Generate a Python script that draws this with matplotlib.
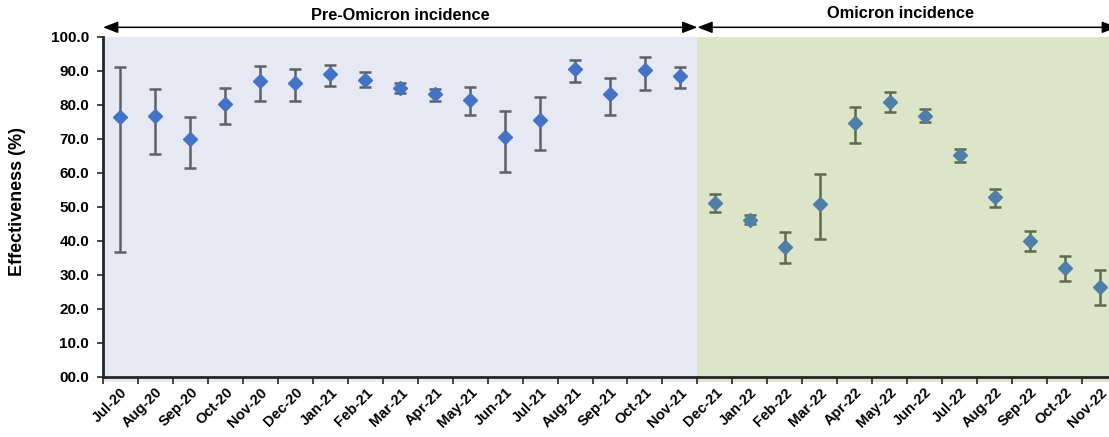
import numpy as np
import matplotlib
matplotlib.use("Agg")
from matplotlib import pyplot as plt

plt.rcParams['font.family'] = ['Liberation Sans', 'DejaVu Sans']
plt.rcParams['font.weight'] = 'bold'

months = ['Jul-20', 'Aug-20', 'Sep-20', 'Oct-20', 'Nov-20', 'Dec-20', 'Jan-21',
          'Feb-21', 'Mar-21', 'Apr-21', 'May-21', 'Jun-21', 'Jul-21', 'Aug-21',
          'Sep-21', 'Oct-21', 'Nov-21', 'Dec-21', 'Jan-22', 'Feb-22', 'Mar-22',
          'Apr-22', 'May-22', 'Jun-22', 'Jul-22', 'Aug-22', 'Sep-22', 'Oct-22',
          'Nov-22']

# effectiveness estimate with lower / upper bounds
eff = [76.4, 76.9, 70.0, 80.3, 87.2, 86.5, 89.0, 87.5, 85.1, 83.1, 81.6, 70.7,
       75.7, 90.6, 83.3, 90.3, 88.6,
       51.2, 46.3, 38.1, 51.0, 74.6, 81.0, 76.8, 65.3, 52.8, 40.0, 32.0, 26.6]
lower = [36.9, 65.5, 61.6, 74.4, 81.2, 81.2, 85.6, 85.2, 83.5, 81.3, 77.1, 60.4,
         66.8, 86.9, 77.0, 84.5, 85.1,
         48.5, 45.0, 33.5, 40.7, 68.9, 77.8, 74.9, 63.3, 50.1, 37.2, 28.3, 21.3]
upper = [91.3, 84.7, 76.5, 84.9, 91.6, 90.6, 91.8, 89.6, 86.6, 84.8, 85.3, 78.3,
         82.3, 93.2, 88.0, 94.0, 91.3,
         53.9, 47.7, 42.6, 59.8, 79.5, 83.8, 78.7, 67.1, 55.3, 43.0, 35.6, 31.5]

n_pre = 17  # Jul-20 .. Nov-21 are pre-Omicron

eff = np.array(eff)
lower = np.array(lower)
upper = np.array(upper)
x = np.arange(len(months))

fig = plt.figure(figsize=(11.09, 4.37), dpi=100)
# plot area runs a little past the right edge of the image
ax = fig.add_axes([103 / 1109, 1 - 377 / 437, 1014 / 1109, 340 / 437])

ax.axvspan(-0.5, n_pre - 0.5, ymin=-0.016, ymax=1, color='#e6e8f4', zorder=0, clip_on=False, lw=0)
ax.axvspan(n_pre - 0.5, len(months) - 0.5, ymin=-0.016, ymax=1, color='#dce5c8', zorder=0, clip_on=False, lw=0)

pre = slice(0, n_pre)
post = slice(n_pre, None)
ax.errorbar(x[pre], eff[pre], yerr=[eff[pre] - lower[pre], upper[pre] - eff[pre]],
            fmt='D', color='#4472c4', ms=7, ecolor='#5f5f66', elinewidth=1.8,
            capsize=4, capthick=1.8, zorder=3)
ax.errorbar(x[post], eff[post], yerr=[eff[post] - lower[post], upper[post] - eff[post]],
            fmt='D', color='#4f7ea6', ms=7, ecolor='#5e6a4e', elinewidth=1.8,
            capsize=4, capthick=1.8, zorder=3)

ax.set_xlim(-0.5, len(months) - 0.5)
ax.set_ylim(0, 100)
ax.set_yticks(np.arange(0, 101, 10))
ax.set_yticklabels(['{:04.1f}'.format(v) for v in np.arange(0, 101, 10)])
ax.set_xticks(x)
ax.set_xticklabels(months, rotation=45, ha='right', rotation_mode='anchor')
ax.set_xticks(np.arange(-0.5, len(months), 1), minor=True)
ax.tick_params(axis='x', which='major', length=0, pad=6, labelsize=10.5)
ax.tick_params(axis='x', which='minor', length=5, width=1.2, color='#262626')
ax.tick_params(axis='y', length=4, width=1.2, color='#262626', labelsize=11, pad=6)
for lab in ax.get_xticklabels() + ax.get_yticklabels():
    lab.set_fontweight('bold')

for s in ['top', 'right']:
    ax.spines[s].set_visible(False)
for s in ['left', 'bottom']:
    ax.spines[s].set_linewidth(2)
    ax.spines[s].set_color('#262626')
ax.spines['left'].set_zorder(4)
ax.spines['bottom'].set_zorder(4)

fig.text(17.5 / 1109, 1 - 202 / 437, 'Effectiveness (%)', rotation=90, ha='center',
         va='center', fontsize=13, fontweight='bold')

# period arrows above the plot
ya = 1.0285
arrow = dict(arrowstyle='<|-|>,head_length=0.9,head_width=0.35', color='black', lw=1.1,
             shrinkA=0, shrinkB=0)
ax.annotate('', xy=(-0.5, ya), xytext=(n_pre - 0.5, ya),
            xycoords=('data', 'axes fraction'), textcoords=('data', 'axes fraction'),
            arrowprops=arrow, annotation_clip=False)
ax.annotate('', xy=(n_pre - 0.5, ya), xytext=(len(months) - 0.5, ya),
            xycoords=('data', 'axes fraction'), textcoords=('data', 'axes fraction'),
            arrowprops=arrow, annotation_clip=False)
ax.text((n_pre - 1) / 2, 1.063, 'Pre-Omicron incidence', transform=ax.get_xaxis_transform(),
        ha='center', va='center', fontsize=11.8, fontweight='bold')
ax.text(22.3, 1.069, 'Omicron incidence',
        transform=ax.get_xaxis_transform(), ha='center', va='center', fontsize=11.8,
        fontweight='bold')

fig.savefig('out.png', dpi=100)
